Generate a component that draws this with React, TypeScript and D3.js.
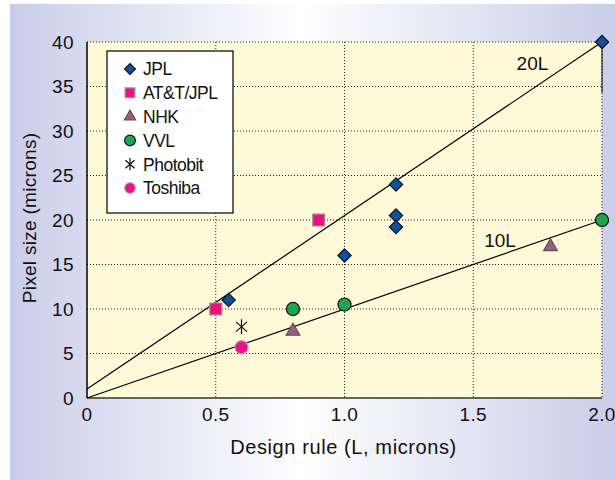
import React, { useEffect, useRef } from "react";
import * as d3 from "d3";

// data
const jplX = [0.55, 1.0, 1.2, 1.2, 1.2, 2.0];
const jplY = [11, 16, 24, 20.5, 19.2, 40];
const attX = [0.5, 0.9];
const attY = [10, 20];
const nhkX = [0.8, 1.8];
const nhkY = [7.5, 17];
const vvlX = [0.8, 1.0, 2.0];
const vvlY = [10, 10.5, 20];
const photobitX = [0.6];
const photobitY = [8];
const toshibaX = [0.6];
const toshibaY = [5.7];

const xTicks = [0, 0.5, 1.0, 1.5, 2.0];
const xTickLabels = ["0", "0.5", "1.0", "1.5", "2.0"];
const yTicks = [0, 5, 10, 15, 20, 25, 30, 35, 40];

// trend lines [x0, y0, x1, y1]
const line20L = [0, 1, 2, 40];
const line10L = [0, 0, 2, 20];

const legendNames = ["JPL", "AT&T/JPL", "NHK", "VVL", "Photobit", "Toshiba"];

const FONT = "Liberation Sans, Arial, sans-serif";

const App = () => {
  const ref = useRef<SVGSVGElement | null>(null);

  useEffect(() => {
    const width = 615,
      height = 480;
    const margin = { top: 42, right: 13, bottom: 82, left: 87 };
    const innerW = width - margin.left - margin.right;
    const innerH = height - margin.top - margin.bottom;

    const root = d3.select(ref.current);
    root.selectAll("*").remove();
    root.attr("width", width).attr("height", height);

    // outer background gradient
    const defs = root.append("defs");
    const grad = defs
      .append("linearGradient")
      .attr("id", "bg")
      .attr("x1", "0%")
      .attr("x2", "100%")
      .attr("y1", "0%")
      .attr("y2", "0%");
    grad.append("stop").attr("offset", "0%").attr("stop-color", "#c9cde9");
    grad.append("stop").attr("offset", "48%").attr("stop-color", "#ffffff");
    grad.append("stop").attr("offset", "100%").attr("stop-color", "#c9cde9");

    root.append("rect").attr("width", width).attr("height", height).attr("fill", "#ffffff");
    root
      .append("rect")
      .attr("x", 10)
      .attr("y", 4)
      .attr("width", width - 10)
      .attr("height", height - 4)
      .attr("fill", "url(#bg)");

    const svg = root.append("g").attr("transform", `translate(${margin.left},${margin.top})`);

    const x = d3.scaleLinear().domain([0, 2]).range([0, innerW]);
    const y = d3.scaleLinear().domain([0, 40]).range([innerH, 0]);

    // plot area
    svg.append("rect").attr("width", innerW).attr("height", innerH).attr("fill", "#fef9d6");

    // dotted grid
    svg
      .selectAll(".gy")
      .data(yTicks.filter((d) => d > 0))
      .enter()
      .append("line")
      .attr("x1", 0)
      .attr("x2", innerW)
      .attr("y1", (d) => y(d))
      .attr("y2", (d) => y(d))
      .attr("stroke", "#222")
      .attr("stroke-width", 1)
      .attr("stroke-dasharray", "1,2");
    svg
      .selectAll(".gx")
      .data(xTicks.filter((d) => d > 0))
      .enter()
      .append("line")
      .attr("x1", (d) => x(d))
      .attr("x2", (d) => x(d))
      .attr("y1", 0)
      .attr("y2", innerH)
      .attr("stroke", "#222")
      .attr("stroke-width", 1)
      .attr("stroke-dasharray", "1,2");

    // axes lines
    svg.append("line").attr("x1", 0).attr("x2", 0).attr("y1", 0).attr("y2", innerH).attr("stroke", "#000").attr("stroke-width", 1.5);
    svg.append("line").attr("x1", 0).attr("x2", innerW).attr("y1", innerH).attr("y2", innerH).attr("stroke", "#333").attr("stroke-width", 1.5);
    // short solid segment on the right edge
    svg.append("line").attr("x1", x(2)).attr("x2", x(2)).attr("y1", y(40)).attr("y2", y(34.3)).attr("stroke", "#000").attr("stroke-width", 1);

    // tick labels
    svg
      .selectAll(".yt")
      .data(yTicks)
      .enter()
      .append("text")
      .attr("x", -13)
      .attr("y", (d) => y(d))
      .attr("dy", "0.36em")
      .attr("text-anchor", "end")
      .style("font-family", FONT)
      .style("font-size", "19px")
      .style("letter-spacing", "0.4px")
      .attr("fill", "#111")
      .text((d) => d);
    svg
      .selectAll(".xt")
      .data(xTicks)
      .enter()
      .append("text")
      .attr("x", (d) => x(d))
      .attr("y", innerH + 23)
      .attr("text-anchor", "middle")
      .style("font-family", FONT)
      .style("font-size", "19px")
      .style("letter-spacing", "0.4px")
      .attr("fill", "#111")
      .text((d, i) => xTickLabels[i]);

    // axis titles
    svg
      .append("text")
      .attr("x", innerW / 2 - 1)
      .attr("y", innerH + 56)
      .attr("text-anchor", "middle")
      .style("font-family", FONT)
      .style("font-size", "20px")
      .style("letter-spacing", "0.6px")
      .attr("fill", "#111")
      .text("Design rule (L, microns)");
    svg
      .append("text")
      .attr("transform", "rotate(-90)")
      .attr("x", -innerH / 2 + 2)
      .attr("y", -51)
      .attr("text-anchor", "middle")
      .style("font-family", FONT)
      .style("font-size", "19px")
      .style("letter-spacing", "0.3px")
      .attr("fill", "#111")
      .text("Pixel size (microns)");

    // trend lines
    const lineGen = d3
      .line<number[]>()
      .x((d) => x(d[0]))
      .y((d) => y(d[1]));
    [line20L, line10L].forEach((l) => {
      svg
        .append("path")
        .attr("d", lineGen([[l[0], l[1]], [l[2], l[3]]]))
        .attr("stroke", "#000")
        .attr("stroke-width", 1.2)
        .attr("fill", "none");
    });
    svg
      .append("text")
      .attr("x", x(1.73))
      .attr("y", y(36.85))
      .attr("text-anchor", "middle")
      .style("font-family", FONT)
      .style("font-size", "19px")
      .attr("fill", "#111")
      .text("20L");
    svg
      .append("text")
      .attr("x", x(1.604))
      .attr("y", y(16.97))
      .attr("text-anchor", "middle")
      .style("font-family", FONT)
      .style("font-size", "19px")
      .attr("fill", "#111")
      .text("10L");

    // marker styles
    const asterisk = (r: number) => {
      const p = d3.path();
      const a = r * Math.sin(Math.PI / 6);
      const b = r * Math.cos(Math.PI / 6);
      p.moveTo(0, -r);
      p.lineTo(0, r);
      p.moveTo(-b * 0.85, -a * 1.3);
      p.lineTo(b * 0.85, a * 1.3);
      p.moveTo(-b * 0.85, a * 1.3);
      p.lineTo(b * 0.85, -a * 1.3);
      return p.toString();
    };

    const styles = [
      { type: d3.symbolSquare, size: 88, rot: 45, fill: "#0c50a2", stroke: "#111" },
      { type: d3.symbolSquare, size: 145, rot: 0, fill: "#ec1080", stroke: "#9a9a9a" },
      { type: d3.symbolTriangle, size: 82, rot: 0, fill: "#a05a82", stroke: "#555" },
      { type: d3.symbolCircle, size: 135, rot: 0, fill: "#1fa64c", stroke: "#111" },
      { type: null, size: 0, rot: 0, fill: "none", stroke: "#111" },
      { type: d3.symbolCircle, size: 135, rot: 0, fill: "#ec1088", stroke: "#aaa" },
    ];
    const seriesX = [jplX, attX, nhkX, vvlX, photobitX, toshibaX];
    const seriesY = [jplY, attY, nhkY, vvlY, photobitY, toshibaY];

    const markerPath = (i: number, scale: number) => {
      const s = styles[i];
      if (s.type === null) return asterisk(7.5 * scale);
      return d3.symbol().type(s.type).size(s.size * scale * scale)()!;
    };

    seriesX.forEach((xs, i) => {
      const s = styles[i];
      const pts = xs.map((v, j) => [v, seriesY[i][j]]);
      svg
        .selectAll(`.m${i}`)
        .data(pts)
        .enter()
        .append("path")
        .attr("d", markerPath(i, 1))
        .attr("transform", (d) => `translate(${x(d[0])},${y(d[1])}) rotate(${s.rot})`)
        .attr("fill", s.fill)
        .attr("stroke", s.stroke)
        .attr("stroke-width", 1.2);
    });

    // legend
    const lg = root.append("g").attr("transform", "translate(107,51)");
    lg.append("rect").attr("width", 126).attr("height", 162).attr("fill", "#fff").attr("stroke", "#000").attr("stroke-width", 1.2);
    legendNames.forEach((name, i) => {
      const s = styles[i];
      const row = lg.append("g").attr("transform", `translate(23,${18 + i * 23.8})`);
      row
        .append("path")
        .attr("d", markerPath(i, 0.82))
        .attr("transform", `rotate(${s.rot})`)
        .attr("fill", s.fill)
        .attr("stroke", s.stroke)
        .attr("stroke-width", 1.2);
      row
        .append("text")
        .attr("x", 13)
        .attr("dy", "0.36em")
        .style("font-family", FONT)
        .style("font-size", "17.5px")
        .style("letter-spacing", "-0.5px")
        .attr("fill", "#111")
        .text(name);
    });
  }, []);

  return (
    <div style={{ position: "absolute", left: 0, top: 0 }}>
      <svg ref={ref}></svg>
    </div>
  );
};

export default App;
